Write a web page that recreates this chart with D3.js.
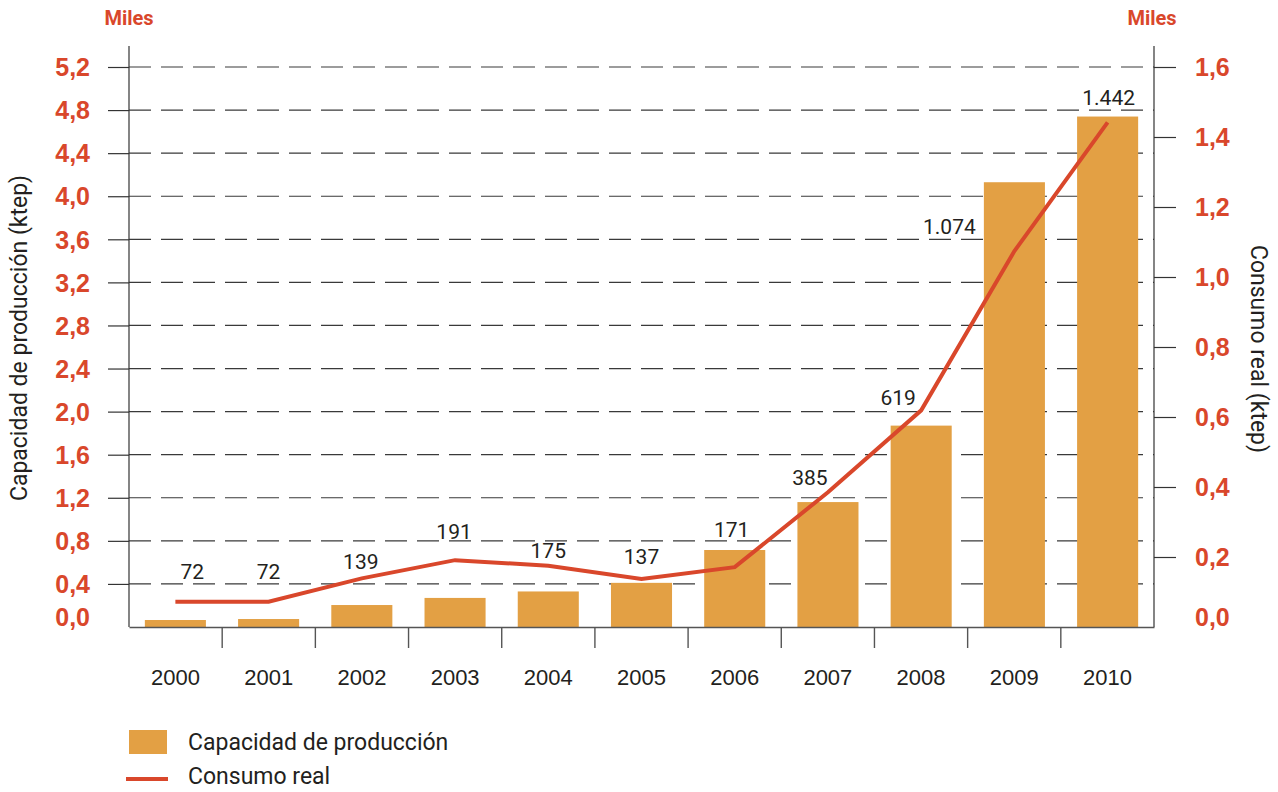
<!DOCTYPE html>
<html>
<head>
<meta charset="utf-8">
<script src="https://cdn.jsdelivr.net/npm/d3@7"></script>
<style>
  body { margin: 0; background: #fff; }
  svg { font-family: Roboto, "Noto Sans", sans-serif; }
</style>
</head>
<body>
<svg id="chart" width="1278" height="792"></svg>
<script>
// data
const years = ['2000', '2001', '2002', '2003', '2004', '2005', '2006', '2007', '2008', '2009', '2010'];
// capacidad de producción, miles de ktep
const capacidad = [0.065, 0.074, 0.204, 0.27, 0.33, 0.41, 0.715, 1.16, 1.87, 4.13, 4.74];
// consumo real, ktep
const consumo = [72, 72, 139, 191, 175, 137, 171, 385, 619, 1074, 1442];
const leftTicks = [0, 0.4, 0.8, 1.2, 1.6, 2.0, 2.4, 2.8, 3.2, 3.6, 4.0, 4.4, 4.8, 5.2];
const rightTicks = [0, 200, 400, 600, 800, 1000, 1200, 1400, 1600];

// label nudges (layout only), relative to each line point
const labelNudge = [[17, -30], [0, -30], [-1, -17], [-1, -29], [0, -15], [0, -22],
  [-3, -38], [-18, -15], [-23, -13], [-65, -24], [1, -25]];

const RED = '#d9472b', ORANGE = '#e3a044', INK = '#231f20';

const svg = d3.select('#chart');
const margin = { top: 67, bottom: 627, left: 129, right: 1154 };

const es = d3.formatLocale({ decimal: ',', thousands: '.', grouping: [3], currency: ['', '€'] });
const fmtTick = es.format('.1f');
const fmtInt = es.format(',d');

const x = d3.scaleBand().domain(years).range([margin.left, margin.right]).paddingInner(0.345).paddingOuter(0.17);
const band = d3.scaleBand().domain(years).range([margin.left, margin.right]);
const yL = d3.scaleLinear().domain([0, 5.2]).range([margin.bottom, margin.top]);
const yR = d3.scaleLinear().domain([0, 1600]).range([margin.bottom, margin.top]);

// dashed grid
svg.append('g').selectAll('line')
  .data(leftTicks.filter(d => d > 0))
  .join('line')
  .attr('x1', margin.left).attr('x2', margin.right)
  .attr('y1', d => yL(d)).attr('y2', d => yL(d))
  .attr('stroke', '#3a3a3a').attr('stroke-width', 1.2)
  .attr('stroke-dasharray', '22,10');

// bars
svg.append('g').selectAll('rect')
  .data(capacidad)
  .join('rect')
  .attr('x', (d, i) => x(years[i]))
  .attr('width', x.bandwidth())
  .attr('y', d => yL(d))
  .attr('height', d => yL(0) - yL(d))
  .attr('fill', ORANGE);

// left axis
const gL = svg.append('g')
  .attr('transform', `translate(${margin.left},0)`)
  .call(d3.axisLeft(yL).tickValues(leftTicks).tickSize(21).tickPadding(18).tickFormat(fmtTick));
gL.select('.domain').remove();
gL.selectAll('.tick line').attr('stroke', '#333').attr('stroke-width', 1.2)
  .filter(d => d === 0).remove();
gL.selectAll('.tick text')
  .attr('fill', RED).attr('font-size', 25).attr('font-weight', 700)
  .attr('dy', d => d === 0 ? '-0.05em' : '0.35em');

// right axis
const gR = svg.append('g')
  .attr('transform', `translate(${margin.right},0)`)
  .call(d3.axisRight(yR).tickValues(rightTicks).tickSize(22).tickPadding(19).tickFormat(d => fmtTick(d / 1000)));
gR.select('.domain').remove();
gR.selectAll('.tick line').attr('stroke', '#333').attr('stroke-width', 1.2)
  .filter(d => d === 0).remove();
gR.selectAll('.tick text')
  .attr('fill', RED).attr('font-size', 25).attr('font-weight', 700)
  .attr('dy', d => d === 0 ? '-0.05em' : '0.35em');

// axis lines
svg.append('line').attr('x1', margin.left).attr('x2', margin.left)
  .attr('y1', 46).attr('y2', margin.bottom).attr('stroke', '#333').attr('stroke-width', 1.2);
svg.append('line').attr('x1', margin.right).attr('x2', margin.right)
  .attr('y1', 46).attr('y2', margin.bottom).attr('stroke', '#333').attr('stroke-width', 1.2);

// x axis
const gX = svg.append('g')
  .attr('transform', `translate(0,${margin.bottom})`)
  .call(d3.axisBottom(band).tickSize(0).tickPadding(50));
gX.select('.domain').attr('stroke', '#555').attr('stroke-width', 1.4);
gX.selectAll('.tick text').attr('fill', INK).attr('font-size', 22).attr('dy', '0.35em');
gX.selectAll('.sep')
  .data(years.slice(1))
  .join('line')
  .attr('class', 'sep')
  .attr('x1', d => band(d)).attr('x2', d => band(d))
  .attr('y1', 0).attr('y2', 21)
  .attr('stroke', '#555').attr('stroke-width', 1.4);

// consumo line
const cx = (d, i) => x(years[i]) + x.bandwidth() / 2;
const line = d3.line().x(cx).y(d => yR(d));
svg.append('path')
  .datum(consumo)
  .attr('d', line)
  .attr('fill', 'none')
  .attr('stroke', RED)
  .attr('stroke-width', 4);

// value labels
svg.append('g').selectAll('text')
  .data(consumo)
  .join('text')
  .attr('x', (d, i) => cx(d, i) + labelNudge[i][0])
  .attr('y', (d, i) => yR(d) + labelNudge[i][1])
  .attr('dy', '0.35em')
  .attr('text-anchor', 'middle')
  .attr('font-size', 21).attr('font-weight', 400)
  .attr('fill', INK)
  .text(d => fmtInt(d));

// "Miles" headers
svg.append('text').attr('x', margin.left).attr('y', 25).attr('text-anchor', 'middle')
  .attr('fill', RED).attr('font-size', 20).attr('font-weight', 700).text('Miles');
svg.append('text').attr('x', margin.right - 2).attr('y', 25).attr('text-anchor', 'middle')
  .attr('fill', RED).attr('font-size', 20).attr('font-weight', 700).text('Miles');

// axis titles
svg.append('text')
  .attr('transform', `translate(27,338) rotate(-90)`)
  .attr('text-anchor', 'middle').attr('fill', INK).attr('font-size', 23)
  .text('Capacidad de producción (ktep)');
svg.append('text')
  .attr('transform', `translate(1251,349) rotate(90)`)
  .attr('text-anchor', 'middle').attr('fill', INK).attr('font-size', 23)
  .text('Consumo real (ktep)');

// legend
const lg = svg.append('g');
lg.append('rect').attr('x', 129).attr('y', 730).attr('width', 38).attr('height', 24).attr('fill', ORANGE);
lg.append('text').attr('x', 188).attr('y', 742).attr('dy', '0.35em')
  .attr('fill', INK).attr('font-size', 23).text('Capacidad de producción');
lg.append('line').attr('x1', 126).attr('x2', 168).attr('y1', 779).attr('y2', 779)
  .attr('stroke', RED).attr('stroke-width', 4);
lg.append('text').attr('x', 188).attr('y', 776).attr('dy', '0.35em')
  .attr('fill', INK).attr('font-size', 23).text('Consumo real');
</script>
</body>
</html>
